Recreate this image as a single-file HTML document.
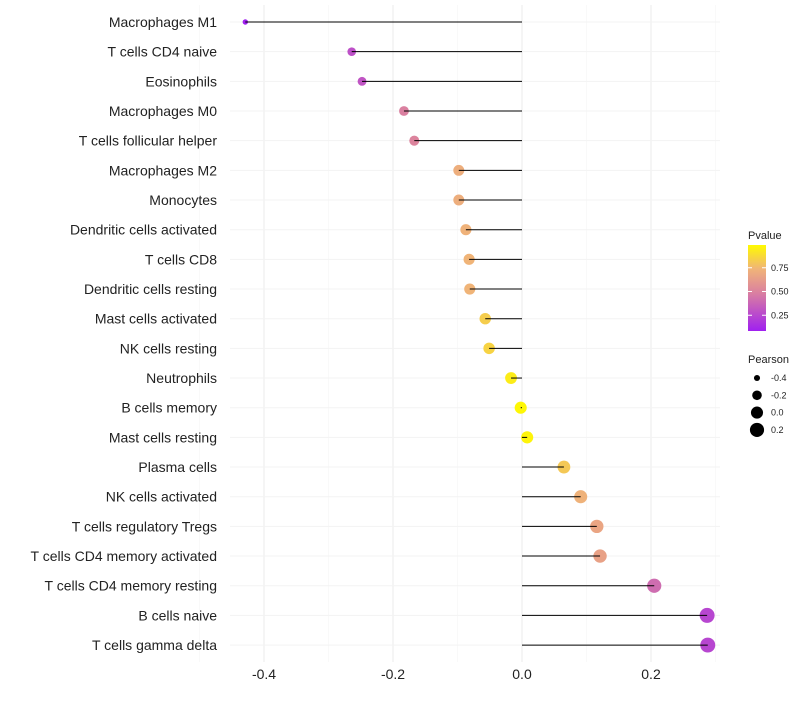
<!DOCTYPE html>
<html><head><meta charset="utf-8"><style>
body{margin:0;background:#fff;font-family:"Liberation Sans",sans-serif;}
svg text{font-family:"Liberation Sans",sans-serif;}
</style></head><body>
<svg id="c" width="800" height="700" xmlns="http://www.w3.org/2000/svg"></svg>
<script>
const categories=["Macrophages M1","T cells CD4 naive","Eosinophils","Macrophages M0","T cells follicular helper","Macrophages M2","Monocytes","Dendritic cells activated","T cells CD8","Dendritic cells resting","Mast cells activated","NK cells resting","Neutrophils","B cells memory","Mast cells resting","Plasma cells","NK cells activated","T cells regulatory  Tregs ","T cells CD4 memory activated","T cells CD4 memory resting","B cells naive","T cells gamma delta"];
const pearson=[-0.429,-0.264,-0.248,-0.183,-0.167,-0.098,-0.098,-0.087,-0.082,-0.081,-0.057,-0.051,-0.017,-0.002,0.008,0.065,0.091,0.116,0.121,0.205,0.287,0.288];
const pvalues=[0.05,0.30,0.32,0.50,0.52,0.72,0.72,0.74,0.75,0.75,0.84,0.86,0.95,0.99,0.98,0.82,0.74,0.68,0.66,0.42,0.26,0.26];
const xTicks=[-0.4,-0.2,0.0,0.2];
const xTickLabels=["-0.4","-0.2","0.0","0.2"];
const pLegendTicks=[0.75,0.50,0.25];
const sizeLegendVals=[-0.4,-0.2,0.0,0.2];

const svg=document.getElementById('c');
const NS="http://www.w3.org/2000/svg";
const X=v=>522+v*645;
const Y=i=>22+i*29.67;
const yP=p=>244+(1-p)*95;
const R=v=>Math.sqrt(Math.max(2,36.5+68*v));
function mk(t,a,p){const e=document.createElementNS(NS,t);for(const k in a)e.setAttribute(k,a[k]);(p||svg).appendChild(e);return e;}
function lerp(a,b,t){return a.map((v,i)=>Math.round(v+(b[i]-v)*t));}
function col(p){
  const s=[[0.1,[160,32,240]],[0.5,[218,128,160]],[0.75,[240,180,120]],[1.0,[255,250,0]]];
  p=Math.max(0.1,Math.min(1,p));
  for(let i=0;i<s.length-1;i++){if(p<=s[i+1][0]){const t=(p-s[i][0])/(s[i+1][0]-s[i][0]);const c=lerp(s[i][1],s[i+1][1],t);return `rgb(${c})`;}}
  return 'rgb(255,250,0)';
}
const g=mk('g',{});


[-0.5,-0.3,-0.1,0.1,0.3].forEach(v=>mk('line',{x1:X(v),x2:X(v),y1:5,y2:662,stroke:'#f5f5f5','stroke-width':0.6},g));
xTicks.forEach(v=>mk('line',{x1:X(v),x2:X(v),y1:5,y2:662,stroke:'#ebebeb','stroke-width':1},g));
categories.forEach((c,i)=>mk('line',{x1:230,x2:720,y1:Y(i),y2:Y(i),stroke:'#f3f3f3','stroke-width':1},g));
xTicks.forEach((v,i)=>{const t=mk('text',{x:X(v),y:679,'text-anchor':'middle','font-size':14,fill:'#222'});t.textContent=xTickLabels[i];

});
categories.forEach((c,i)=>{
  const t=mk('text',{x:217,y:Y(i)+5,'text-anchor':'end','font-size':14,fill:'#222'});t.textContent=c;
  
  
  const d=mk('circle',{cx:X(pearson[i]),cy:Y(i),r:R(pearson[i]),fill:col(pvalues[i])});
  
  
  const l=mk('line',{x1:X(0),x2:X(pearson[i]),y1:Y(i),y2:Y(i),stroke:'#000','stroke-width':1});
  
  
});
const defs=mk('defs',{});
const lg=mk('linearGradient',{id:'pg',x1:0,y1:1,x2:0,y2:0},defs);
[0.1,0.3,0.5,0.62,0.75,0.88,1].forEach(p=>mk('stop',{offset:(p-0.1)/0.9,'stop-color':col(p)},lg));
const lt=mk('text',{x:748,y:239,'font-size':11,fill:'#222'});lt.textContent='Pvalue';


const bar=mk('rect',{x:748,y:245,width:18,height:86,fill:'url(#pg)'});


pLegendTicks.forEach(p=>{mk('line',{x1:748,x2:752,y1:yP(p),y2:yP(p),stroke:'#fff'});mk('line',{x1:762,x2:766,y1:yP(p),y2:yP(p),stroke:'#fff'});
const t=mk('text',{x:771,y:yP(p)+3,'font-size':9,fill:'#222'});t.textContent=p.toFixed(2);

});
const st=mk('text',{x:748,y:363,'font-size':11,fill:'#222'});st.textContent='Pearson';


sizeLegendVals.forEach((v,i)=>{const y=378+i*17.3;
const c=mk('circle',{cx:757,cy:y,r:R(v),fill:'#000'});


const t=mk('text',{x:771,y:y+3,'font-size':9,fill:'#222'});t.textContent=v.toFixed(1);

});
</script>
</body></html>
